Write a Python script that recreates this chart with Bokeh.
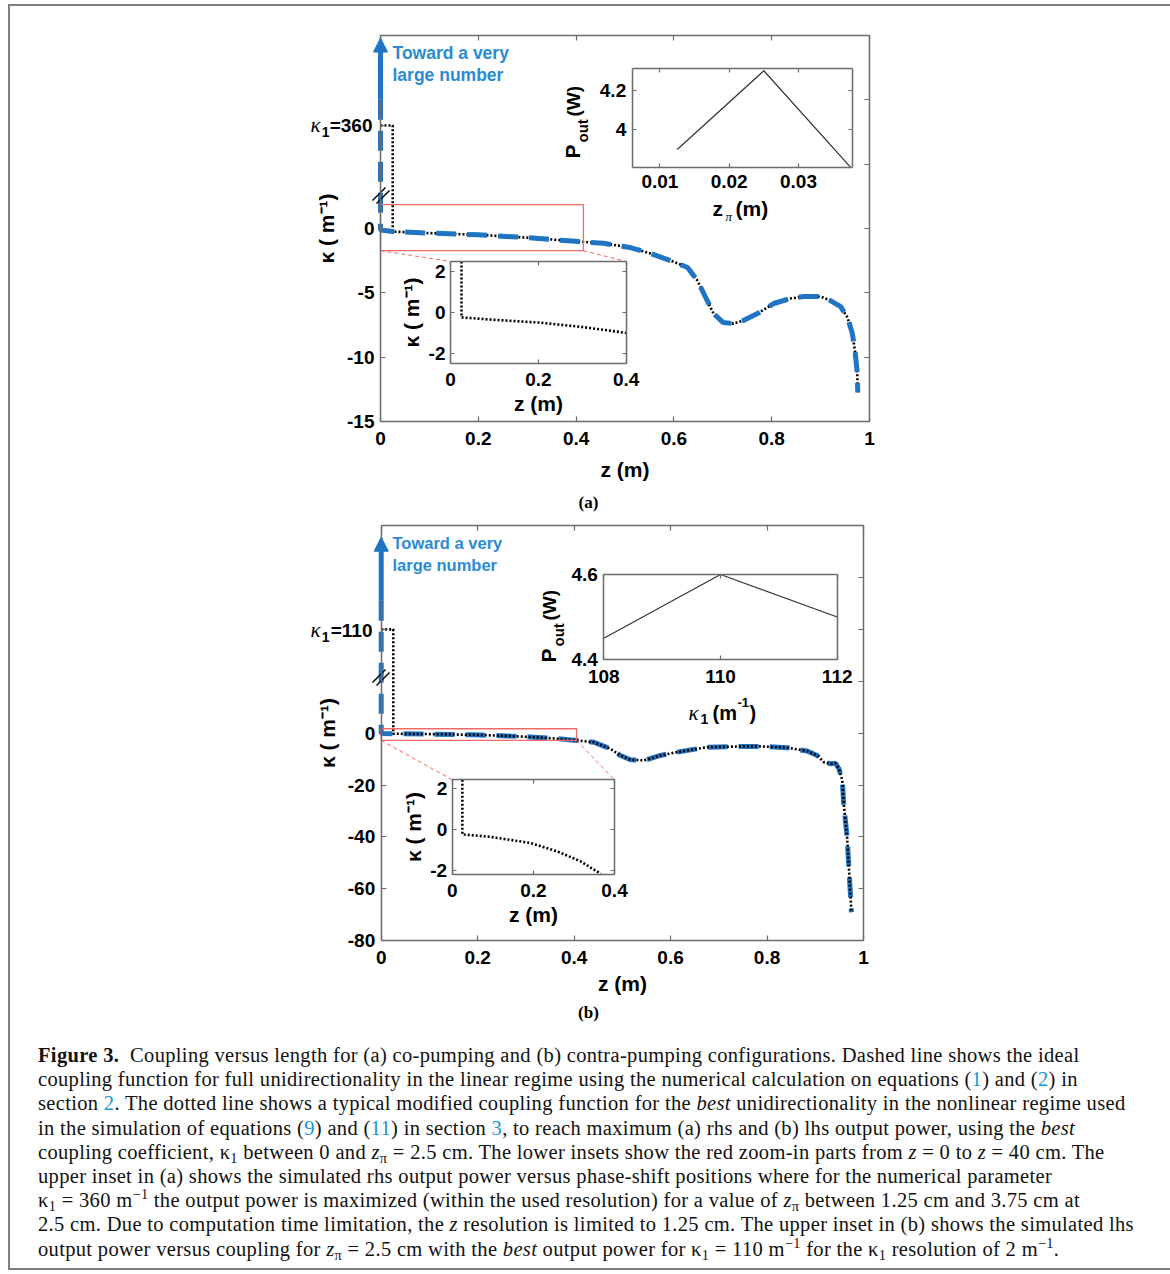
from bokeh.plotting import figure
from bokeh.models import Range1d, LinearAxis, FixedTicker, Arrow, NormalHead, Div
from bokeh.layouts import column
from bokeh.core.properties import value
from bokeh.embed import file_html
from bokeh.resources import INLINE

# ---------------- data ----------------
# (a) co-pumping: coupling kappa (1/m) versus z (m)
z_a = [0.0, 0.025, 0.1, 0.2, 0.3, 0.4, 0.456, 0.511, 0.552, 0.593, 0.628, 0.648, 0.661,
       0.681, 0.701, 0.722, 0.742, 0.771, 0.804, 0.838, 0.865, 0.900, 0.920, 0.941,
       0.955, 0.965, 0.971, 0.975, 0.976]
k_a = [-0.12, -0.24, -0.36, -0.49, -0.71, -1.0, -1.15, -1.48, -1.94, -2.49, -3.03, -4.04,
       -5.05, -6.61, -7.31, -7.39, -7.15, -6.61, -5.83, -5.44, -5.29, -5.29, -5.60, -6.07,
       -6.92, -8.16, -9.72, -11.28, -12.75]
# (a) upper inset: rhs output power versus phase-shift position
zpi_a = [0.0125, 0.025, 0.0375]
pout_a = [3.90, 4.30, 3.81]

# (b) contra-pumping: coupling kappa (1/m) versus z (m)
z_b = [0.0, 0.025, 0.094, 0.193, 0.259, 0.316, 0.366, 0.40, 0.441, 0.475, 0.496, 0.517,
       0.545, 0.579, 0.614, 0.676, 0.752, 0.786, 0.842, 0.883, 0.904, 0.918, 0.932, 0.942,
       0.949, 0.956, 0.959, 0.966, 0.970, 0.975]
k_b = [-0.1, -0.23, -0.35, -0.65, -1.06, -1.54, -2.15, -2.7, -3.5, -6.0, -8.6, -10.25,
       -10.5, -8.6, -7.3, -5.4, -5.1, -5.1, -5.6, -6.9, -8.6, -11.2, -11.8, -11.6, -13.7,
       -18.2, -27.2, -40.1, -52.9, -69.0]
# (b) upper inset: lhs output power versus kappa1
k1_b = [108, 110, 112]
pout_b = [4.45, 4.60, 4.50]

z_pi = 0.025                 # phase-shift position (m)
kappa1_labels = ["=360", "=110"]
k1_axis_pos = [8, 40]        # where kappa1 sits on the broken axes
arrow_base = [10, 51]
arrow_tip = [14.8, 75.5]
zoom_a = (0.0, 0.415, -1.72, 1.85)
zoom_b = (0.0, 0.405, -2.8, 1.7)

x_ticks_main = [0, 0.2, 0.4, 0.6, 0.8, 1]
y_ticks_a = [-15, -10, -5, 0]
y_ticks_a_right = [-15, -10, -5, 0, 5, 10, 15]
y_ticks_b = [-80, -60, -40, -20, 0]
y_ticks_b_right = [-80, -60, -40, -20, 0, 20, 40, 60, 80]
x_ticks_zoom = [0, 0.2, 0.4]
y_ticks_zoom = [-2, 0, 2]
x_ticks_ua = [0.01, 0.02, 0.03]
y_ticks_ua = [4, 4.2]
x_ticks_ub = [108, 110, 112]
y_ticks_ub = [4.4, 4.6]

# ---------------- styles ----------------
GRAY = "#6b6b6b"
BLUE = "#1f74c4"
BLUE_TXT = "#2a8bd4"
RED = "#f06a6a"
SANS = "Liberation Sans"
SERIF = "Liberation Serif"

W, H = 1150, 1028
OX, OY = 10, 6   # page position of the figure's top-left corner

p = figure(width=W, height=H, x_range=Range1d(OX, OX + W), y_range=Range1d(OY + H, OY),
           output_backend="svg", toolbar_location=None, x_axis_type=None, y_axis_type=None,
           min_border=0, outline_line_color=None, background_fill_color="white",
           border_fill_color="white")

xr, yr, xmaps, ymaps = {}, {}, {}, {}


def map_x(name, p0, p1, d0, d1):
    s = (d1 - d0) / (p1 - p0)
    xr[name] = Range1d(d0 - (p0 - OX) * s, d1 + (OX + W - p1) * s)
    xmaps[name] = (p0, d0, s)


def map_y(name, p0, p1, d0, d1):
    s = (d1 - d0) / (p0 - p1)
    yr[name] = Range1d(d0 - (OY + H - p0) * s, d1 + (p1 - OY) * s)
    ymaps[name] = (p0, d0, s)


def px(name, d):
    p0, d0, s = xmaps[name]
    return p0 + (d - d0) / s


def py(name, d):
    p0, d0, s = ymaps[name]
    return p0 - (d - d0) / s


# panel frames (page pixels) and data limits
LIM = {
    "a":  ((0, 1), (-15, 15)),
    "la": ((0, 0.4), (-2.5, 2.5)),
    "ua": ((0.006, 0.0378), (3.81, 4.31)),
    "b":  ((0, 1), (-80, 80)),
    "lb": ((0, 0.4), (-2.2, 2.43)),
    "ub": ((108, 112), (4.4, 4.6)),
}
FRAME = {
    "a":  ((380, 869), (421, 35)),
    "la": ((450, 625.7), (363, 261)),
    "ua": ((631.7, 852), (166.7, 68.3)),
    "b":  ((380.7, 863), (940.3, 525)),
    "lb": ((451.7, 614), (874.3, 779.3)),
    "ub": ((603.3, 836.7), (659, 574)),
}
for k in LIM:
    (x0, x1), (y0, y1) = LIM[k]
    (px0, px1), (py0, py1) = FRAME[k]
    map_x(k + "x", px0, px1, x0, x1)
    map_y(k + "y", py0, py1, y0, y1)
p.extra_x_ranges = xr
p.extra_y_ranges = yr


def hyphen(ticks, extra=None):
    d = {t: f"{t:g}" for t in ticks if t < 0}
    d.update(extra or {})
    return d


def box_axes(k, xt, yt, xt2=None, yt2=None, fs="19px", lfs="21px", tl=5,
             xstand=8, ystand=6, xlstand=4, ylstand=4, xlabel=None, ylabel=None,
             xover=None, yover=None):
    (x0, x1), (y0, y1) = LIM[k]
    common = dict(x_range_name=k + "x", y_range_name=k + "y", axis_line_color=GRAY,
                  axis_line_width=1.5, major_tick_line_color=GRAY, major_tick_line_width=1.2,
                  major_tick_in=tl, major_tick_out=0, minor_tick_in=0, minor_tick_out=0,
                  major_label_text_font=SANS, major_label_text_font_style="bold",
                  major_label_text_font_size=fs, major_label_text_color="black",
                  axis_label_text_font=SANS, axis_label_text_font_style="bold",
                  axis_label_text_font_size=lfs, axis_label_text_color="black")
    b = LinearAxis(fixed_location=y0, bounds=(x0, x1), ticker=FixedTicker(ticks=xt),
                   major_label_standoff=xstand, axis_label=xlabel,
                   axis_label_standoff=xlstand, major_label_overrides=hyphen(xt, xover),
                   **common)
    l = LinearAxis(fixed_location=x0, bounds=(y0, y1), ticker=FixedTicker(ticks=yt),
                   major_label_standoff=ystand, axis_label=ylabel,
                   axis_label_standoff=ylstand, major_label_overrides=hyphen(yt, yover),
                   **common)
    t = LinearAxis(fixed_location=y1, bounds=(x0, x1), ticker=FixedTicker(ticks=xt2 or xt),
                   **common)
    r = LinearAxis(fixed_location=x1, bounds=(y0, y1), ticker=FixedTicker(ticks=yt2 or yt),
                   **common)
    t.major_label_text_color = None
    r.major_label_text_color = None
    p.add_layout(b, "below")
    p.add_layout(l, "left")
    p.add_layout(t, "above")
    p.add_layout(r, "right")


def white_box(k):
    (x0, x1), (y0, y1) = LIM[k]
    p.quad(left=[x0], right=[x1], bottom=[y0], top=[y1], fill_color="white",
           line_color=None, x_range_name=k + "x", y_range_name=k + "y")


def txt(x, y, s, size, color="black", font=SANS, style="bold", align="left",
        baseline="middle", angle=0.0):
    p.text(x=[x], y=[y], text=[s], text_font=value(font), text_font_style=style,
           text_font_size=f"{size}px", text_color=color, text_align=align,
           text_baseline=baseline, angle=angle)


def main_panel(k, z, kap, idx, blue_on_top, zoom, lower, yt, yt_right, xlstand):
    kx, ky = k + "x", k + "y"
    bz = [0.0] + z
    bk = [arrow_base[idx]] + kap
    dz = [0.0, z_pi] + [zz for zz in z if zz >= z_pi]
    dk = [k1_axis_pos[idx]] * 2 + [kk for zz, kk in zip(z, kap) if zz >= z_pi]

    def blue():
        p.line(bz, bk, line_color=BLUE, line_width=5, line_dash="20 11",
               x_range_name=kx, y_range_name=ky)

    def dots():
        p.line(dz, dk, line_color="black", line_width=2.6, line_dash="2 2",
               x_range_name=kx, y_range_name=ky)

    if blue_on_top:
        dots(); blue()
    else:
        blue(); dots()
    p.add_layout(Arrow(end=NormalHead(size=14, fill_color=BLUE, line_color=BLUE),
                       x_start=0, y_start=arrow_base[idx], x_end=0, y_end=arrow_tip[idx],
                       line_color=BLUE, line_width=5, x_range_name=kx, y_range_name=ky))
    # red zoom window
    zx0, zx1, zy0, zy1 = zoom
    p.quad(left=[zx0], right=[zx1], bottom=[zy0], top=[zy1], fill_color=None,
           line_color=RED, line_width=1.3, x_range_name=kx, y_range_name=ky)
    (lx0, lx1), (ly0, ly1) = LIM[lower]
    p.segment(x0=[px(kx, zx0), px(kx, zx1)], y0=[py(ky, zy0), py(ky, zy0)],
              x1=[px(lower + "x", lx0), px(lower + "x", lx1)],
              y1=[py(lower + "y", ly1), py(lower + "y", ly1)],
              line_color=RED, line_width=1, line_dash="4 3")
    box_axes(k, x_ticks_main, yt, yt2=yt_right, xlabel="z (m)", ylabel="κ ( m⁻¹)",
             xover={0: "0", 1: "1"}, xstand=10, ylstand=6, xlstand=xlstand)
    # tick at the kappa1 level on the broken axis
    tick = LinearAxis(x_range_name=kx, y_range_name=ky, fixed_location=0,
                      bounds=LIM[k][1], ticker=FixedTicker(ticks=[k1_axis_pos[idx]]),
                      axis_line_color=None, major_tick_line_color=GRAY,
                      major_tick_line_width=1.2, major_tick_in=5, major_tick_out=0,
                      major_label_text_color=None)
    p.add_layout(tick, "left")
    # lower zoom inset
    white_box(lower)
    (lx0, lx1), (ly0, ly1) = LIM[lower]
    sel = [(zz, kk) for zz, kk in zip(z, kap) if z_pi <= zz <= lx1 and kk >= ly0]
    iz = [z_pi] + [s[0] for s in sel]
    ik = [ly1] + [s[1] for s in sel]
    p.line(iz, ik, line_color="black", line_width=2.6, line_dash="2 2",
           x_range_name=lower + "x", y_range_name=lower + "y")
    box_axes(lower, x_ticks_zoom, y_ticks_zoom, xlabel="z (m)", ylabel="κ ( m⁻¹)",
             xover={0: "0"}, tl=4, xstand=9, ystand=5, xlstand=3, ylstand=3)


# ---------------- panel (a) ----------------
main_panel("a", z_a, k_a, 0, True, zoom_a, "la", y_ticks_a, y_ticks_a_right, 10)
white_box("ua")
p.line(zpi_a, pout_a, line_color="#333333", line_width=1.2, x_range_name="uax",
       y_range_name="uay")
box_axes("ua", x_ticks_ua, y_ticks_ua, yover={4: "4"}, tl=4, xstand=8, ystand=6)

# ---------------- panel (b) ----------------
main_panel("b", z_b, k_b, 1, False, zoom_b, "lb", y_ticks_b, y_ticks_b_right, 5)
white_box("ub")
p.line(k1_b, pout_b, line_color="#333333", line_width=1.2, x_range_name="ubx",
       y_range_name="uby")
box_axes("ub", x_ticks_ub, y_ticks_ub, tl=4, xstand=10, ystand=6)

# ---------------- annotations ----------------
# broken-axis marks
for yb in (194, 676):
    p.segment(x0=[372, 376], y0=[yb + 6, yb + 9], x1=[385, 389], y1=[yb - 7, yb - 4],
              line_color="black", line_width=1.5)

for ytop, fs in ((52, 17.5), (542, 16.5)):
    txt(392, ytop, "Toward a very", fs, color=BLUE_TXT)
    txt(392, ytop + 22, "large number", fs, color=BLUE_TXT)

for yk, lab in ((125, kappa1_labels[0]), (630, kappa1_labels[1])):
    txt(372, yk, lab, 19, align="right")
    txt(329, yk + 6, "1", 14, align="right")
    txt(320, yk - 1, "κ", 21, font=SERIF, style="italic", align="right")

# upper inset (a) labels
txt(572, 158, "P", 21, baseline="alphabetic", angle=1.5708)
txt(582, 142, "out", 15, baseline="alphabetic", angle=1.5708)
txt(573, 116, "(W)", 19, baseline="alphabetic", angle=1.5708)
txt(712, 208, "z", 21, baseline="alphabetic")
txt(725, 216, "π", 13, font=SERIF, style="italic", baseline="alphabetic")
txt(735, 208, "(m)", 21, baseline="alphabetic")

# upper inset (b) labels
txt(548, 662, "P", 21, baseline="alphabetic", angle=1.5708)
txt(558, 646, "out", 15, baseline="alphabetic", angle=1.5708)
txt(549, 620, "(W)", 19, baseline="alphabetic", angle=1.5708)
txt(688, 712, "κ", 21, font=SERIF, style="italic", baseline="alphabetic")
txt(700, 718, "1", 14, baseline="alphabetic")
txt(712, 712, "(m", 20, baseline="alphabetic")
txt(737, 702, "-1", 13, baseline="alphabetic")
txt(749, 712, ")", 20, baseline="alphabetic")

txt(588, 502, "(a)", 17, font=SERIF, align="center")
txt(588, 1012, "(b)", 17, font=SERIF, align="center")

# ---------------- caption ----------------
L = '<span style="color:#1a96d4">'
E = '</span>'
SUB = '<sub style="font-size:70%;line-height:0;vertical-align:-0.25em">'
SUP = '<sup style="font-size:70%;line-height:0;vertical-align:0.55em">'
K1 = 'κ' + SUB + '1</sub>'
ZPI = '<i>z</i>' + SUB + 'π</sub>'
lines = [
    '<b>Figure 3.</b>&nbsp; Coupling versus length for (a) co-pumping and (b) contra-pumping configurations. Dashed line shows the ideal',
    f'coupling function for full unidirectionality in the linear regime using the numerical calculation on equations ({L}1{E}) and ({L}2{E}) in',
    f'section {L}2{E}. The dotted line shows a typical modified coupling function for the <i>best</i> unidirectionality in the nonlinear regime used',
    f'in the simulation of equations ({L}9{E}) and ({L}11{E}) in section {L}3{E}, to reach maximum (a) rhs and (b) lhs output power, using the <i>best</i>',
    f'coupling coefficient, {K1} between 0 and {ZPI} = 2.5 cm. The lower insets show the red zoom-in parts from <i>z</i> = 0 to <i>z</i> = 40 cm. The',
    'upper inset in (a) shows the simulated rhs output power versus phase-shift positions where for the numerical parameter',
    f'{K1} = 360 m{SUP}−1</sup> the output power is maximized (within the used resolution) for a value of {ZPI} between 1.25 cm and 3.75 cm at',
    '2.5 cm. Due to computation time limitation, the <i>z</i> resolution is limited to 1.25 cm. The upper inset in (b) shows the simulated lhs',
    f'output power versus coupling for {ZPI} = 2.5 cm with the <i>best</i> output power for {K1} = 110 m{SUP}−1</sup> for the {K1} resolution of 2 m{SUP}−1</sup>.',
]
html = ('<div style="font-family:\'Liberation Serif\';font-size:20.5px;line-height:24.2px;'
        'letter-spacing:0.33px;color:#111;white-space:nowrap;padding:4px 0 0 23px">'
        + '<br>'.join(lines) + '</div>')
cap = Div(text=html, width=W, height=224)

root = column(p, cap, margin=(4, 0, 0, 8), styles={"border": "2px solid #7f7f7f"})
open("out.html", "w").write(file_html(root, INLINE))
